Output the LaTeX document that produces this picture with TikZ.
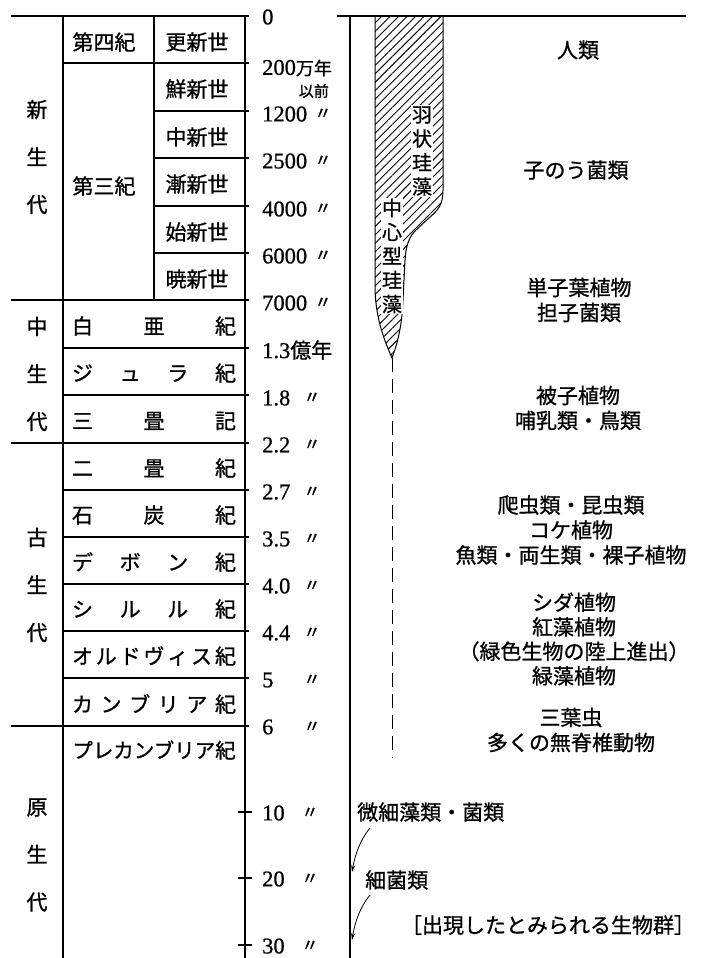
\documentclass[tikz,border=0pt]{standalone}
\usepackage{fontspec}
\setmainfont{Liberation Serif}[FakeBold=0.7]
\newfontfamily\jpfont{Noto Sans CJK JP}[FakeBold=0.9]
\usetikzlibrary{patterns.meta,arrows.meta}
\begin{document}
\begin{tikzpicture}[x=1pt,y=-1pt,
  rule/.style={line width=1.1pt, line cap=butt},
  jlab/.style={font=\jpfont\fontsize{21}{21}\selectfont, inner sep=0pt},
  vlab/.style={font=\jpfont\fontsize{21}{47.5}\selectfont, inner sep=0pt, align=center},
  numlab/.style={font=\fontsize{22.5}{22.5}\selectfont, inner sep=0pt, anchor=west},
  dittolab/.style={font=\jpfont\fontsize{17}{17}\selectfont, inner sep=0pt},
  biolab/.style={font=\jpfont\fontsize{21}{25}\selectfont, inner sep=0pt, align=center},
  diatomlab/.style={font=\jpfont\fontsize{20}{24}\selectfont, inner sep=1pt, align=center, fill=white},
]
\useasboundingbox (0,0) rectangle (701,958);

% ---------- left table ----------
\draw[rule] (11,16) -- (249,16);
\draw[rule] (63,63) -- (249,63);
\foreach \yy in {111,158,206,253} \draw[rule] (154,\yy) -- (249,\yy);
\draw[rule] (11,300) -- (249,300);
\foreach \yy in {348,395} \draw[rule] (63,\yy) -- (249,\yy);
\draw[rule] (11,443) -- (249,443);
\foreach \yy in {490,537,584,631,678} \draw[rule] (63,\yy) -- (249,\yy);
\draw[rule] (11,726) -- (249,726);
\draw[rule] (63,16) -- (63,958);
\draw[rule] (154,16) -- (154,300);
\draw[rule] (245,16) -- (245,958);
\foreach \yy in {812,878,945} \draw[rule] (238,\yy) -- (252,\yy);

% eras
\node[vlab] (era1) at (37,157) {新\\生\\代};
\node[vlab] (era2) at (37,374) {中\\生\\代};
\node[vlab] (era3) at (37,585) {古\\生\\代};
\node[vlab] (era4) at (37,855) {原\\生\\代};

% periods / epochs (Cenozoic)
\node[jlab] (q1) at (104,42) {第四紀};
\node[jlab] (q2) at (104,186) {第三紀};
\node[jlab] (e1) at (197,42) {更新世};
\node[jlab] (e2) at (197,89) {鮮新世};
\node[jlab] (e3) at (197,137) {中新世};
\node[jlab] (e4) at (197,184) {漸新世};
\node[jlab] (e5) at (197,232) {始新世};
\node[jlab] (e6) at (197,279) {暁新世};

% periods (spread)
\node[jlab] (p1) at (154,326) {\hbox to 164pt{白\hfill 亜\hfill 紀}};
\node[jlab] (p2) at (154,373) {\hbox to 164pt{ジ\hfill ュ\hfill ラ\hfill 紀}};
\node[jlab] (p3) at (154,421) {\hbox to 164pt{三\hfill 畳\hfill 記}};
\node[jlab] (p4) at (154,468) {\hbox to 164pt{二\hfill 畳\hfill 紀}};
\node[jlab] (p5) at (154,515) {\hbox to 164pt{石\hfill 炭\hfill 紀}};
\node[jlab] (p6) at (154,562) {\hbox to 164pt{デ\hfill ボ\hfill ン\hfill 紀}};
\node[jlab] (p7) at (154,609) {\hbox to 164pt{シ\hfill ル\hfill ル\hfill 紀}};
\node[jlab] (p8) at (154,656) {\hbox to 164pt{オ\hfill ル\hfill ド\hfill ヴ\hfill ィ\hfill ス\hfill 紀}};
\node[jlab] (p9) at (154,704) {\hbox to 164pt{カ\hfill ン\hfill ブ\hfill リ\hfill ア\hfill 紀}};
\node[jlab, font=\jpfont\fontsize{20.5}{20.5}\selectfont] (p10) at (154,750) {プレカンブリア紀};

% ---------- time axis labels ----------
\node[numlab] (t0) at (262,17) {0};
\node[numlab] (t1) at (262,68) {200{\jpfont\fontsize{18}{18}\selectfont 万年}};
\node[anchor=east, inner sep=0pt, font=\jpfont\fontsize{15}{15}\selectfont] (t1b) at (329,91) {以前};
\node[numlab] (t2) at (262,114) {1200};
\node[numlab] (t3) at (262,161) {2500};
\node[numlab] (t4) at (262,209) {4000};
\node[numlab] (t5) at (262,256) {6000};
\node[numlab] (t6) at (262,303) {7000};
\foreach \yy [count=\i] in {114,161,209,256,303} \node[dittolab] (dA\i) at (323,\yy) {〃};
\node[numlab] (t7) at (262,350) {1.3{\jpfont\fontsize{21}{21}\selectfont 億年}};
\node[numlab] (t8) at (262,398) {1.8};
\node[numlab] (t9) at (262,445) {2.2};
\node[numlab] (t10) at (262,492) {2.7};
\node[numlab] (t11) at (262,539) {3.5};
\node[numlab] (t12) at (262,586) {4.0};
\node[numlab] (t13) at (262,633) {4.4};
\node[numlab] (t14) at (262,680) {5};
\node[numlab] (t15) at (262,727) {6};
\node[numlab] (t16) at (262,813) {10};
\node[numlab] (t17) at (262,879) {20};
\node[numlab] (t18) at (262,946) {30};
\foreach \yy [count=\i] in {398,445,492,539,586,633,680,727} \node[dittolab] (dB\i) at (312,\yy) {〃};
\foreach \yy [count=\i] in {813,879,946} \node[dittolab] (dC\i) at (310,\yy) {〃};

% ---------- right panel ----------
\draw[rule] (337,16) -- (686,16);
\draw[rule] (350,16) -- (350,958);

% diatom shape
\draw[line width=1pt, pattern={Lines[angle=45,distance=6pt,line width=0.9pt]}]
  (443,16) -- (443,190) .. controls (443,205) and (438,210) .. (430,217)
  -- (416,230) .. controls (409,237) and (406,245) .. (405,260)
  -- (403,300) .. controls (402,325) and (398,342) .. (392,358)
  .. controls (385,342) and (376,320) .. (375,290) -- (375,16);
\coordinate (stemtop) at (392,358);
\coordinate (stembot) at (392,758);
\draw[line width=1pt, dash pattern=on 14pt off 7pt] (stemtop) -- (stembot);

\node[diatomlab] (ushape) at (422,151) {羽\\状\\珪\\藻};
\node[diatomlab] (centric) at (392,256) {中\\心\\型\\珪\\藻};

% organisms
\node[biolab] (b1) at (578,50) {人類};
\node[biolab] (b2) at (576,170) {子のう菌類};
\node[biolab] (b3) at (579,300) {単子葉植物\\担子菌類};
\node[biolab] (b4) at (578,408) {被子植物\\哺乳類・鳥類};
\node[biolab] (b5) at (571,530) {爬虫類・昆虫類\\コケ植物\\魚類・両生類・裸子植物};
\node[biolab, font=\jpfont\fontsize{21}{24.5}\selectfont] (b6) at (574,639) {シダ植物\\紅藻植物\\（緑色生物の陸上進出）\\緑藻植物};
\node[biolab] (b7) at (571,730) {三葉虫\\多くの無脊椎動物};

\node[jlab, anchor=west] (m1) at (357,812) {微細藻類・菌類};
\node[jlab, anchor=west] (m2) at (365,880) {細菌類};
\node[jlab] (m3) at (548,925) {［出現したとみられる生物群］};

\coordinate (a1s) at (370,828);
\coordinate (a1e) at (352,872);
\coordinate (a2s) at (370,895);
\coordinate (a2e) at (352,940);
\draw[line width=0.8pt, -{Stealth[length=7pt,width=4pt]}] (a1s) .. controls (360,840) and (355,855) .. (a1e);
\draw[line width=0.8pt, -{Stealth[length=7pt,width=4pt]}] (a2s) .. controls (360,907) and (355,922) .. (a2e);
\end{tikzpicture}
\end{document}
